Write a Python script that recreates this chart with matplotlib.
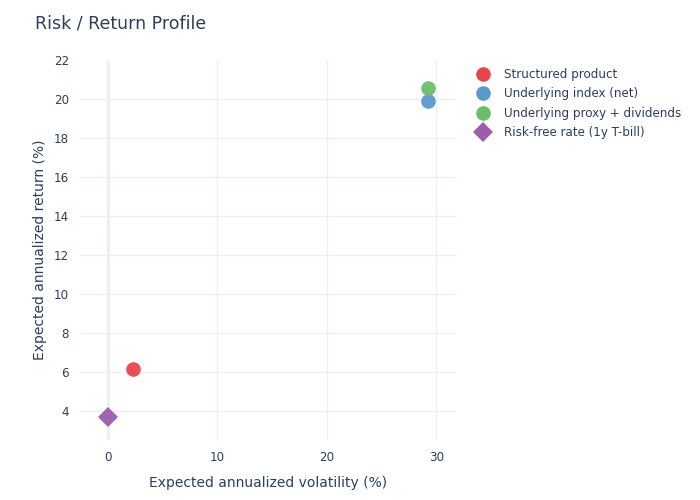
import matplotlib.pyplot as plt
from matplotlib.lines import Line2D

TEXT = "#2a3f5f"
GRID = "#ebf0f8"

names = ["Structured product", "Underlying index (net)", "Underlying proxy + dividends", "Risk-free rate (1y T-bill)"]
volatility = [2.3, 29.2, 29.2, 0.0]
returns = [6.15, 19.9, 20.55, 3.7]
colors = ["#e8454a", "#5b98cb", "#6abd6a", "#9c5dab"]
markers = ["o", "o", "o", "D"]

x_ticks = [0, 10, 20, 30]
y_ticks = [4, 6, 8, 10, 12, 14, 16, 18, 20, 22]

plt.rcParams["font.family"] = "DejaVu Sans"

fig = plt.figure(figsize=(7, 5), dpi=100)
ax = fig.add_axes([80 / 700, 60 / 500, 376 / 700, 380 / 500])

handles = []
for name, x, y, c, m in zip(names, volatility, returns, colors, markers):
    ms = 10.5 if m == "o" else 10
    ax.plot([x], [y], marker=m, color=c, markersize=ms, linestyle="none",
            alpha=0.95, markeredgewidth=0, zorder=3)
    handles.append(Line2D([], [], marker=m, color=c, markersize=ms,
                          linestyle="none", markeredgewidth=0, label=name))

ax.set_xlim(-2.56, 31.8)
ax.set_ylim(2.5, 22.0)
ax.set_xticks(x_ticks)
ax.set_yticks(y_ticks)
ax.grid(True, color=GRID, linewidth=1, zorder=0)
# top gridline sits on the edge, the reference does not draw it
ax.get_ygridlines()[-1].set_visible(False)
ax.axvline(0, color=GRID, linewidth=2, zorder=1)
for s in ax.spines.values():
    s.set_visible(False)
ax.tick_params(length=0, labelsize=8.6, colors=TEXT, pad=8)

ax.set_xlabel("Expected annualized volatility (%)", fontsize=10, color=TEXT, labelpad=8.5)
ax.set_ylabel("Expected annualized return (%)", fontsize=10, color=TEXT, labelpad=4.8)

fig.text(35 / 700, 1 - 24 / 500, "Risk / Return Profile", fontsize=12.5, color=TEXT, va="center", ha="left")

leg = fig.legend(handles=handles, loc="upper left", bbox_to_anchor=(471 / 700, 1 - 63 / 500),
                 frameon=False, fontsize=8.6, labelspacing=0.55, handletextpad=1.15,
                 handlelength=1.2, borderaxespad=0)
for t in leg.get_texts():
    t.set_color(TEXT)

fig.savefig("out.png", dpi=100, facecolor="white")
